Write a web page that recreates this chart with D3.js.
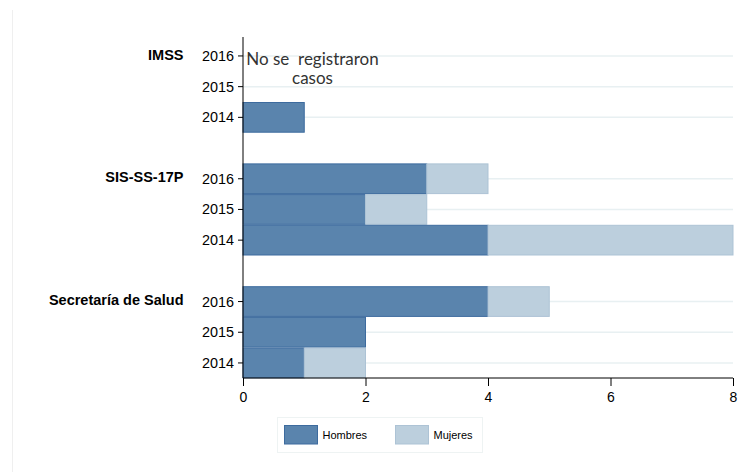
<!DOCTYPE html>
<html><head><meta charset="utf-8">
<script src="https://cdn.jsdelivr.net/npm/d3@7"></script>
<style>body{margin:0;background:#fff}svg{display:block}</style>
</head><body><svg id="c" width="748" height="472"></svg>
<script>
const institutions = ["IMSS", "SIS-SS-17P", "Secretaría de Salud"];
const years = ["2016", "2015", "2014"];
// values per institution, in order of years above
const hombres = [[0, 0, 1], [3, 2, 4], [4, 2, 1]];
const mujeres = [[0, 0, 0], [1, 1, 4], [1, 0, 1]];
const xTicks = [0, 2, 4, 6, 8];
const seriesNames = ["Hombres", "Mujeres"];
const colors = ["#5a84ad", "#bccfdd"];
const strokes = ["#3d6b9e", "#adc3d5"];
const annotation = ["No se  registraron", "casos"];

(function () {
const svg = d3.select("#c");
const mLeft = 243, mRight = 733, mTop = 40.6, mBottom = 378;
const font = "Liberation Sans, Arial, sans-serif";

const slots = [];
institutions.forEach((inst, gi) => {
  years.forEach((y, yi) => slots.push({inst, gi, year: y, yi, key: inst + "|" + y,
    h: hombres[gi][yi], m: mujeres[gi][yi]}));
  if (gi < institutions.length - 1) slots.push({key: "gap" + gi, gap: true});
});

const x = d3.scaleLinear().domain([0, 8]).range([mLeft, mRight]);
const yb = d3.scaleBand().domain(slots.map(d => d.key)).range([mTop, mTop + 30.7 * 11]).paddingInner(0).paddingOuter(0);

svg.append("line").attr("x1", 12.5).attr("x2", 12.5).attr("y1", 10).attr("y2", 472)
  .attr("stroke", "#efefef").attr("stroke-width", 1);

const rows = slots.filter(d => !d.gap);

svg.append("g").selectAll("line").data(rows).join("line")
  .attr("x1", mLeft).attr("x2", mRight)
  .attr("y1", d => yb(d.key) + yb.bandwidth() / 2).attr("y2", d => yb(d.key) + yb.bandwidth() / 2)
  .attr("stroke", "#e8f0f2").attr("stroke-width", 1.5);

const bars = svg.append("g");
rows.forEach(d => {
  const vals = [d.h, d.m];
  let start = 0;
  vals.forEach((v, i) => {
    if (v > 0) {
      bars.append("rect")
        .attr("x", x(start)).attr("width", x(start + v) - x(start))
        .attr("y", yb(d.key) + 0.5).attr("height", yb.bandwidth() - 1)
        .attr("fill", colors[i]).attr("stroke", strokes[i]).attr("stroke-width", 1);
    }
    start += v;
  });
});

const yAxisG = svg.append("g").attr("transform", `translate(${mLeft},0)`);
yAxisG.append("line").attr("x1", 0).attr("x2", 0).attr("y1", 37).attr("y2", mBottom)
  .attr("stroke", "#000").attr("stroke-width", 1);
rows.forEach(d => {
  const cy = yb(d.key) + yb.bandwidth() / 2;
  yAxisG.append("line").attr("x1", -5).attr("x2", 0).attr("y1", cy).attr("y2", cy).attr("stroke", "#000");
  yAxisG.append("text").attr("x", -9).attr("y", cy).attr("dy", "0.35em")
    .attr("text-anchor", "end").attr("font-family", font)
    .attr("font-size", 14.4).attr("fill", "#000").text(d.year);
  if (d.yi === 0) {
    yAxisG.append("text").attr("x", -59.5).attr("y", cy - 1.5).attr("dy", "0.35em")
      .attr("text-anchor", "end").attr("font-family", font)
      .attr("font-size", 14.5).attr("font-weight", "bold").attr("fill", "#000").text(d.inst);
  }
});

const xAxis = d3.axisBottom(x).tickValues(xTicks).tickSize(8).tickPadding(6).tickFormat(d3.format("d"));
const xg = svg.append("g").attr("transform", `translate(0,${mBottom})`).call(xAxis);
xg.select(".domain").attr("stroke", "#000").attr("d", `M${mLeft},0H${mRight}`);
xg.selectAll(".tick line").attr("stroke", "#000");
xg.selectAll("text").attr("font-family", font).attr("font-size", 14).attr("fill", "#000");

const annG = svg.append("g").attr("font-family", "Lato, Open Sans, sans-serif").attr("font-size", 17)
  .attr("fill", "#333").attr("text-anchor", "middle");
annG.append("text").attr("x", 312.5).attr("y", 64.5).style("white-space", "pre").text(annotation[0]);
annG.append("text").attr("x", 312.5).attr("y", 83.5).text(annotation[1]);

const lg = svg.append("g");
lg.append("rect").attr("x", 277.5).attr("y", 417.5).attr("width", 205).attr("height", 35)
  .attr("fill", "#fff").attr("stroke", "#eef3f3");
const lx = [284, 395];
seriesNames.forEach((n, i) => {
  lg.append("rect").attr("x", lx[i] + 0.5).attr("y", 425.5).attr("width", 33).attr("height", 18.5)
    .attr("fill", colors[i]).attr("stroke", strokes[i]);
  lg.append("text").attr("x", lx[i] + 38.5).attr("y", 435).attr("dy", "0.35em")
    .attr("font-family", font).attr("font-size", 11).attr("fill", "#000").text(n);
});
})();
</script></body></html>
